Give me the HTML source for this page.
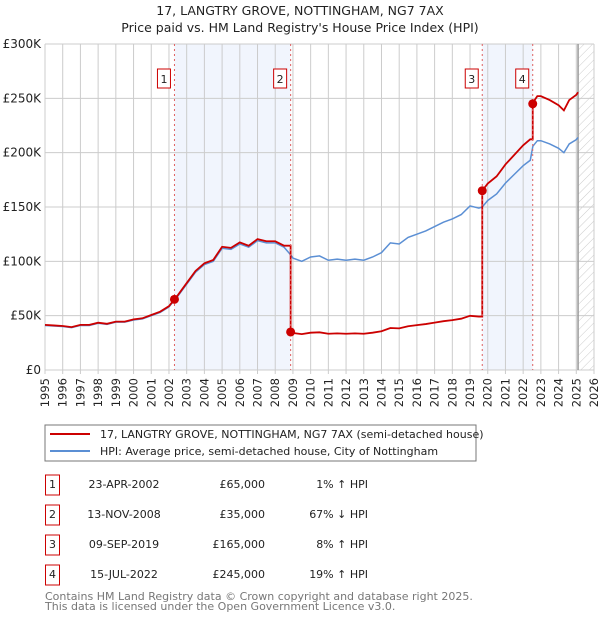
<!DOCTYPE html>
<html><head><meta charset="utf-8"><style>
body{margin:0;background:#fff;font-family:"DejaVu Sans","Liberation Sans",sans-serif;}
svg text{font-family:"DejaVu Sans","Liberation Sans",sans-serif;}
</style></head><body>
<svg id="c" width="600" height="620" xmlns="http://www.w3.org/2000/svg">
<defs><pattern id="hatch" width="6" height="6" patternUnits="userSpaceOnUse" patternTransform="rotate(45)"><line x1="0" y1="0" x2="0" y2="6" stroke="#ccc" stroke-width="1"/></pattern></defs>
<text x="300" y="15" text-anchor="middle" font-size="12.5" fill="#222">17, LANGTRY GROVE, NOTTINGHAM, NG7 7AX</text>
<text x="300" y="32" text-anchor="middle" font-size="12.5" fill="#222">Price paid vs. HM Land Registry's House Price Index (HPI)</text>
<g id="plot"></g>
<g>
<rect x="45" y="425" width="431" height="36" fill="#fff" stroke="#777" stroke-width="1"/>
<line x1="50" y1="434" x2="90" y2="434" stroke="#cc0000" stroke-width="2"/>
<text x="100" y="438" font-size="11" fill="#222">17, LANGTRY GROVE, NOTTINGHAM, NG7 7AX (semi-detached house)</text>
<line x1="50" y1="451" x2="90" y2="451" stroke="#5b8fd4" stroke-width="2"/>
<text x="100" y="455" font-size="11" fill="#222">HPI: Average price, semi-detached house, City of Nottingham</text>
</g>
<g id="table" font-size="11" fill="#222"></g>
<text x="45" y="600" font-size="11" fill="#777">Contains HM Land Registry data © Crown copyright and database right 2025.</text>
<text x="45" y="610" font-size="11" fill="#777">This data is licensed under the Open Government Licence v3.0.</text>
</svg>
<script>
const hpiYears=[1995,1995.5,1996,1996.5,1997,1997.5,1998,1998.5,1999,1999.5,2000,2000.5,2001,2001.5,2002,2002.3,2002.5,2003,2003.5,2004,2004.5,2005,2005.5,2006,2006.5,2007,2007.5,2008,2008.5,2008.87,2009,2009.5,2010,2010.5,2011,2011.5,2012,2012.5,2013,2013.5,2014,2014.5,2015,2015.5,2016,2016.5,2017,2017.5,2018,2018.5,2019,2019.5,2019.69,2020,2020.5,2021,2021.5,2022,2022.4,2022.55,2022.8,2023,2023.5,2024,2024.3,2024.6,2025,2025.1];
const hpiValues=[41,40.5,40,39,41,41,43,42,44,44,46,47,50,53,58,64,68,79,90,97,100,112,111,116,113,119,117,117,113,106,103,100,104,105,101,102,101,102,101,104,108,117,116,122,125,128,132,136,139,143,151,149,150,156,162,172,180,188,193,206,211,211,208,204,200,208,212,214];
const saleYears=[2002.31,2008.87,2019.69,2022.54];
const salePrices=[65,35,165,245];
const saleLabels=["1","2","3","4"];
const saleDates=["23-APR-2002","13-NOV-2008","09-SEP-2019","15-JUL-2022"];
const salePriceText=["£65,000","£35,000","£165,000","£245,000"];
const saleHpiText=["1% ↑ HPI","67% ↓ HPI","8% ↑ HPI","19% ↑ HPI"];
const yTicks=[0,50,100,150,200,250,300];
const yTickLabels=["£0","£50K","£100K","£150K","£200K","£250K","£300K"];
const xTicks=[1995,1996,1997,1998,1999,2000,2001,2002,2003,2004,2005,2006,2007,2008,2009,2010,2011,2012,2013,2014,2015,2016,2017,2018,2019,2020,2021,2022,2023,2024,2025,2026];

const NS="http://www.w3.org/2000/svg";
const X0=45,X1=594,Y0=370,Y1=44;
const xs=y=>X0+(y-1995)/(2026-1995)*(X1-X0);
const ys=v=>Y0-v/300*(Y0-Y1);
const g=document.getElementById('plot');
function el(t,a,p){const e=document.createElementNS(NS,t);for(const k in a)e.setAttribute(k,a[k]);(p||g).appendChild(e);return e;}
function hpiAt(t){if(t<=hpiYears[0])return hpiValues[0];for(let i=1;i<hpiYears.length;i++){if(t<=hpiYears[i]){const f=(t-hpiYears[i-1])/(hpiYears[i]-hpiYears[i-1]);return hpiValues[i-1]+f*(hpiValues[i]-hpiValues[i-1]);}}return hpiValues[hpiValues.length-1];}
const b1=el('rect',{x:xs(saleYears[0]),y:Y1,width:xs(saleYears[1])-xs(saleYears[0]),height:Y0-Y1,fill:'#eef3fc',opacity:0.8});


const b2=el('rect',{x:xs(saleYears[2]),y:Y1,width:xs(saleYears[3])-xs(saleYears[2]),height:Y0-Y1,fill:'#eef3fc',opacity:0.8});


const hx=el('rect',{x:xs(2025.1),y:Y1,width:X1-xs(2025.1),height:Y0-Y1,fill:'url(#hatch)'});


xTicks.forEach((t,i)=>{const l=el('line',{x1:xs(t),x2:xs(t),y1:Y1,y2:Y0+4,stroke:'#ccc','stroke-width':1});


const tx=el('text',{x:0,y:0,transform:`translate(${xs(t)+4},${Y0+8}) rotate(-90)`,'text-anchor':'end','font-size':11.5,fill:'#222'});tx.textContent=t;

});
yTicks.forEach((v,i)=>{const l=el('line',{x1:X0,x2:X1,y1:ys(v),y2:ys(v),stroke:'#ccc','stroke-width':1});


const tx=el('text',{x:X0-4,y:ys(v)+4,'text-anchor':'end','font-size':12,fill:'#222'});tx.textContent=yTickLabels[i];

});
el('line',{x1:xs(2025.1),x2:xs(2025.1),y1:Y1,y2:Y0,stroke:'#999','stroke-width':1.5});
const hp=el('polyline',{points:hpiYears.map((t,i)=>xs(t)+','+ys(hpiValues[i])).join(' '),fill:'none',stroke:'#5b8fd4','stroke-width':1.5});


const ratios=saleYears.map((t,i)=>salePrices[i]/hpiAt(t));
let pts=[];
const first=ratios[0];
hpiYears.forEach((t,i)=>{if(t<saleYears[0])pts.push([t,hpiValues[i]*first]);});
for(let s=0;s<saleYears.length;s++){
  const prev=pts.length?pts[pts.length-1][1]:salePrices[s];
  pts.push([saleYears[s],prev]);pts.push([saleYears[s],salePrices[s]]);
  const end=s+1<saleYears.length?saleYears[s+1]:3000;
  hpiYears.forEach((t,i)=>{if(t>saleYears[s]&&t<end)pts.push([t,hpiValues[i]*ratios[s]]);});
}
const pl=el('polyline',{points:pts.map(p=>xs(p[0])+','+ys(p[1])).join(' '),fill:'none',stroke:'#cc0000','stroke-width':1.8});


saleYears.forEach((t,i)=>{
  const vl=el('line',{x1:xs(t),x2:xs(t),y1:Y1,y2:Y0,stroke:'#e06060','stroke-width':1,'stroke-dasharray':'2,3'});
  
  
  const d=el('circle',{cx:xs(t),cy:ys(salePrices[i]),r:4.5,fill:'#cc0000'});
  
  
  const bx=el('rect',{x:xs(t)-17,y:69,width:13,height:19,fill:'#fff',stroke:'#cc0000','stroke-width':1});
  
  
  const tt=el('text',{x:xs(t)-10.5,y:83,'text-anchor':'middle','font-size':11,fill:'#222'});tt.textContent=saleLabels[i];
  
  
});
const tb=document.getElementById('table');
saleYears.forEach((t,i)=>{
  const cy=484+i*30;
  const r=el('rect',{x:45.5,y:cy-9,width:14,height:20,fill:'#fff',stroke:'#cc0000','stroke-width':1},tb);
  
  
  const a=el('text',{x:52.5,y:cy+4,'text-anchor':'middle'},tb);a.textContent=saleLabels[i];
  
  
  const b=el('text',{x:124,y:cy+4,'text-anchor':'middle'},tb);b.textContent=saleDates[i];
  
  
  const c=el('text',{x:265,y:cy+4,'text-anchor':'end'},tb);c.textContent=salePriceText[i];
  
  
  const d=el('text',{x:368,y:cy+4,'text-anchor':'end'},tb);d.textContent=saleHpiText[i];
  
  
});
</script>
</body></html>
